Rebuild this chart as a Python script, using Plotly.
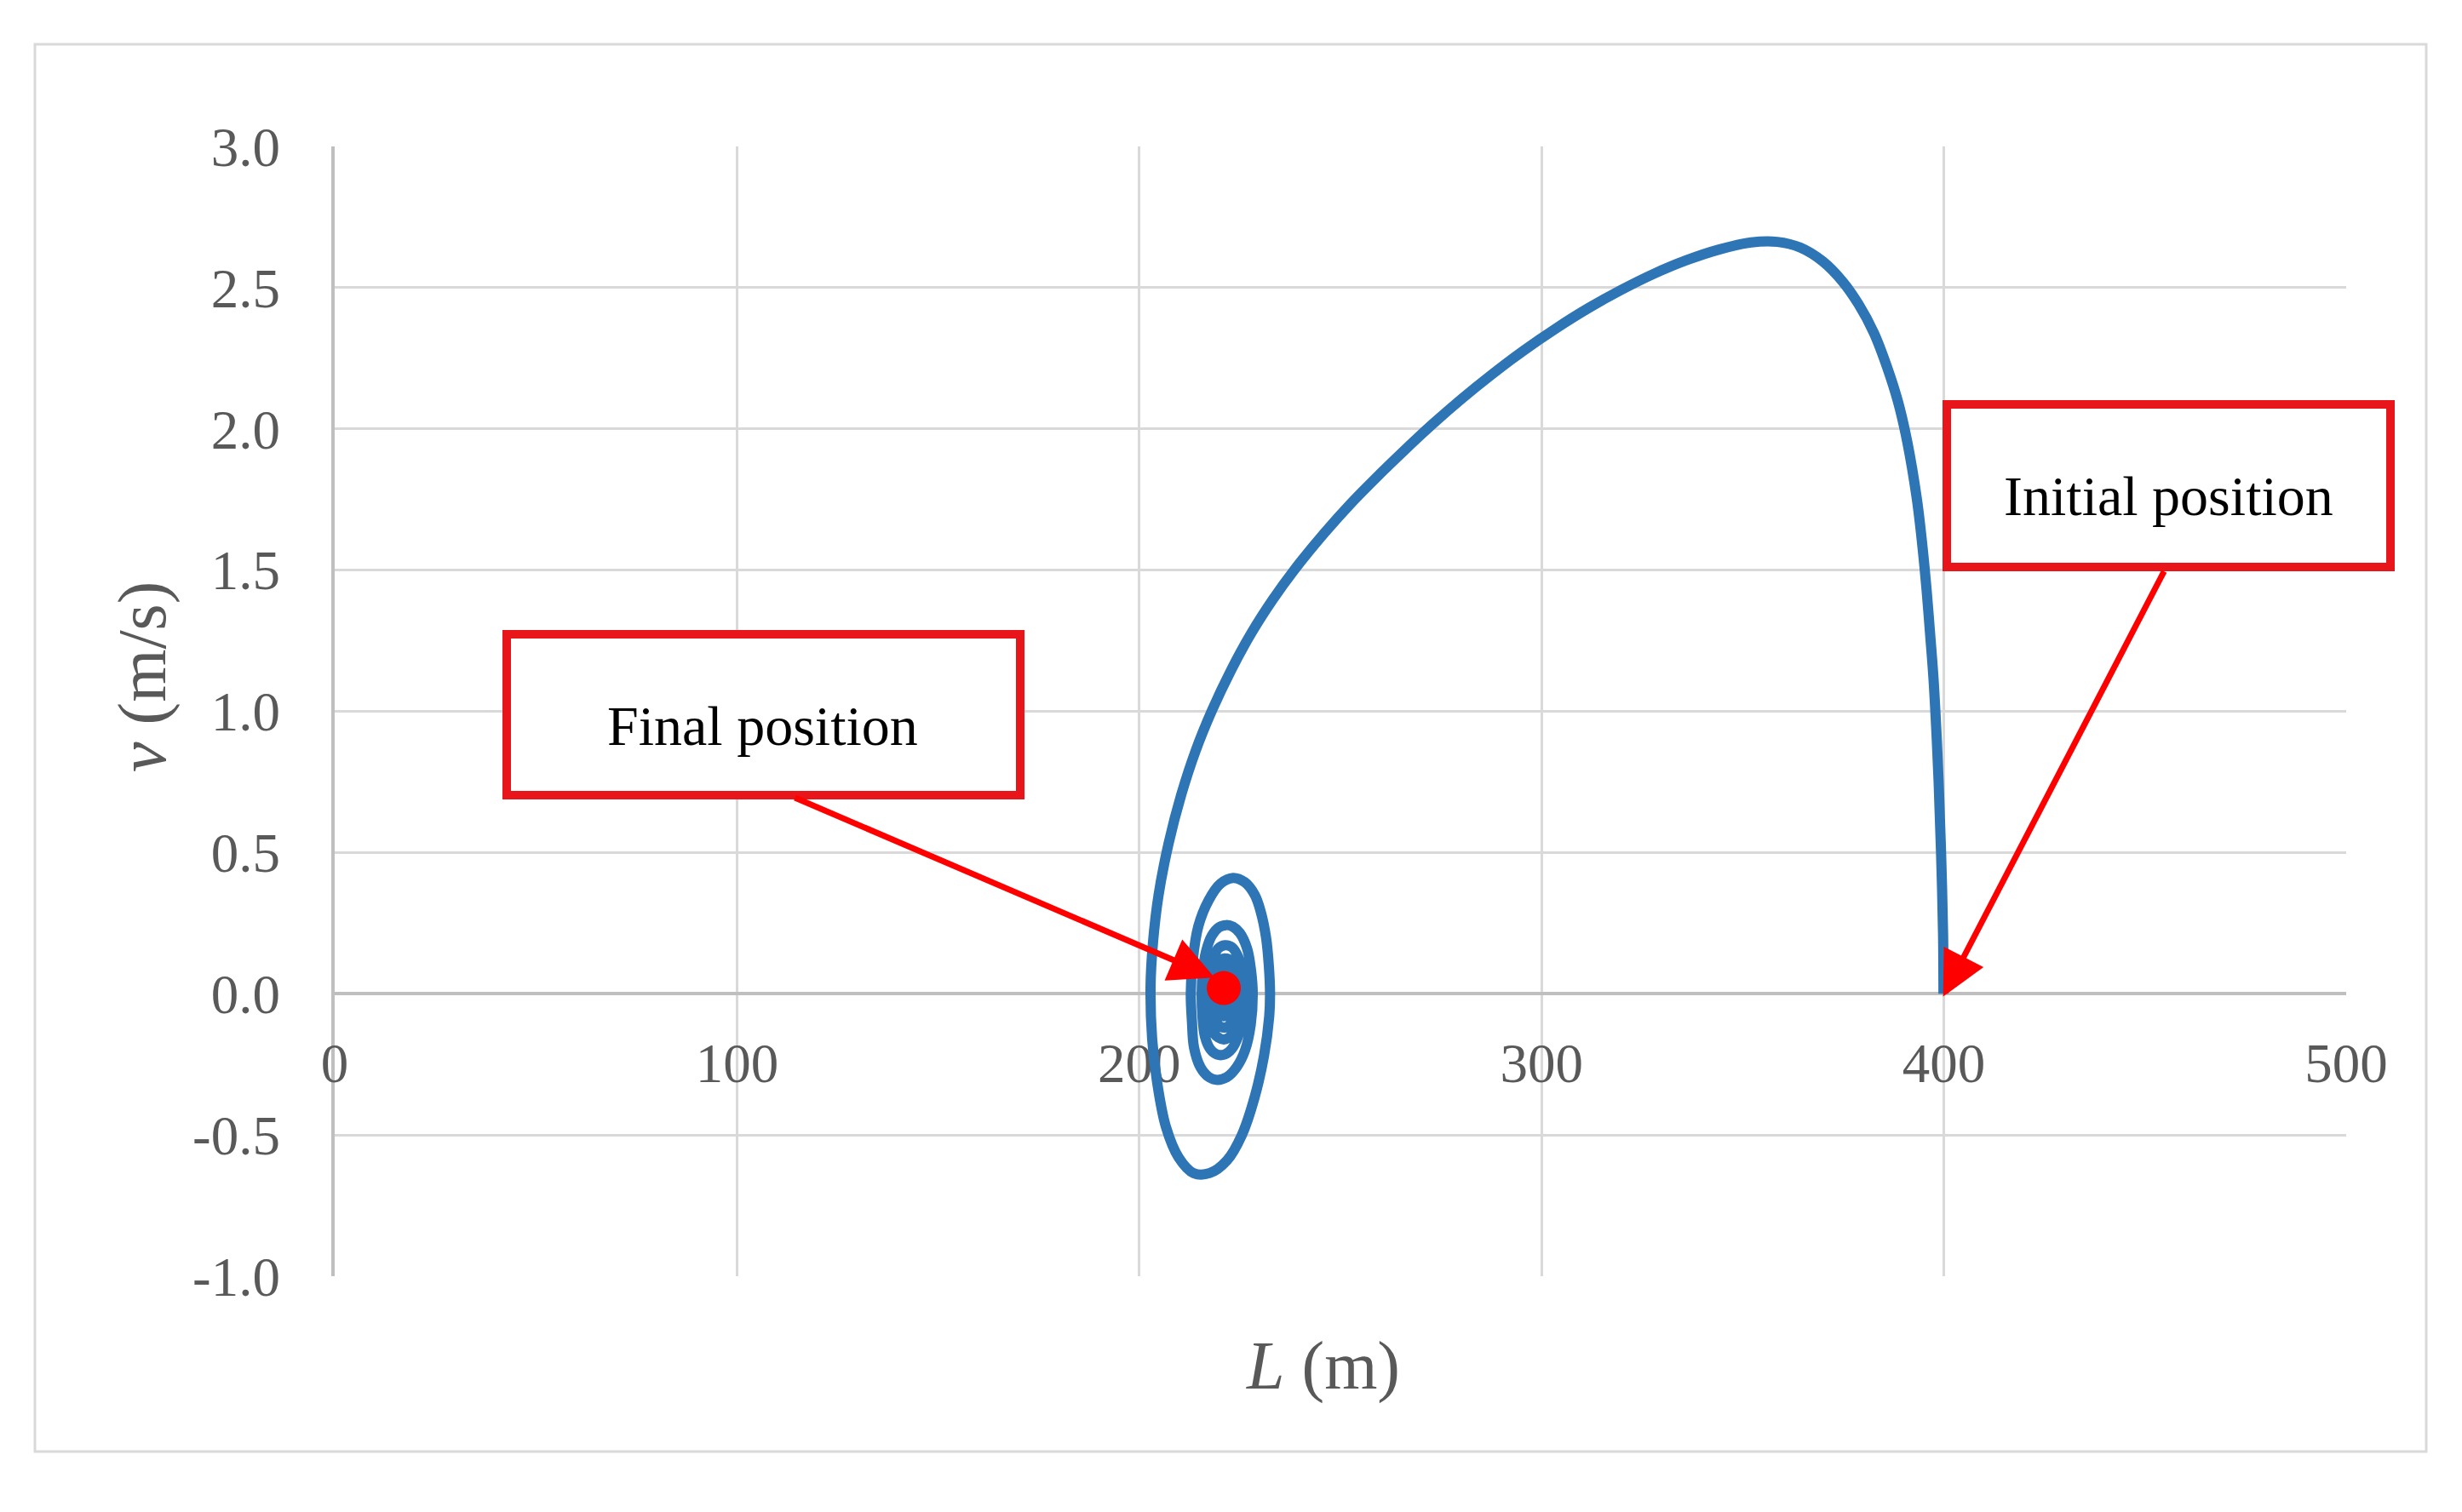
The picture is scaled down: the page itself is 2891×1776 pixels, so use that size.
import plotly.graph_objects as go

# ---------------- data ----------------
# main trajectory: from initial position (400, 0) around the big arc to the left extreme
L_main = [399.9, 399.8, 399.3, 398.7, 398.1, 397.4, 396.6, 395.7, 394.7, 393.3, 390.9, 388.6,
          385.9, 382.6, 378.8, 374.8, 369.9, 364.3, 358.6, 352.1, 344.1, 336.0, 327.9, 319.8,
          311.7, 303.6, 295.6, 287.5, 280.2, 273.0, 266.7, 259.8, 252.6, 246.0, 238.5, 233.2,
          227.9, 222.9, 218.1, 214.0, 210.4, 207.3, 204.8, 203.4, 202.8]
v_main = [0.00, 0.21, 0.50, 0.75, 0.94, 1.12, 1.27, 1.43, 1.58, 1.75, 1.954, 2.096,
          2.218, 2.34, 2.441, 2.522, 2.593, 2.642, 2.662, 2.660, 2.635, 2.597, 2.549, 2.492,
          2.428, 2.356, 2.278, 2.191, 2.107, 2.018, 1.935, 1.840, 1.736, 1.631, 1.50, 1.396,
          1.278, 1.148, 1.004, 0.86, 0.703, 0.533, 0.35, 0.18, 0.023]

# damped spiral around the final position
L_spiral = [203.2, 204.4, 206.6, 209.8, 213.5, 217.5, 221.8, 225.5, 228.6, 231.0, 232.3,
            232.5, 232.2, 231.5, 230.2, 228.7, 226.2, 223.3, 220.2, 217.2, 214.7, 213.3,
            212.8, 213.1, 213.6, 215.2, 217.3, 219.4, 221.8, 224.2, 226.3, 227.7,
            228.2, 227.8, 226.8, 225.0, 223.3, 221.6, 219.8, 218.0, 216.6, 215.8,
            215.5, 215.7, 216.3, 217.6, 219.3, 221.2, 223.0, 224.6, 225.7,
            226.0, 225.6, 224.6, 223.0, 221.3, 219.6, 218.3, 217.4,
            217.0, 217.3, 218.5, 221.0, 223.3, 224.6,
            225.0, 224.4, 223.0, 221.2, 219.5, 218.4,
            218.0, 218.4, 219.6, 221.2, 222.8, 223.8,
            224.1, 223.6, 222.5, 221.1, 219.8, 219.0,
            218.8, 219.3, 221.0, 222.8,
            223.3, 222.6, 221.0, 219.8,
            219.5, 220.2, 221.2, 222.4,
            222.6, 222.0, 221.0, 220.2,
            220.4, 221.0, 221.5, 221.0]
v_spiral = [-0.16, -0.31, -0.47, -0.58, -0.635, -0.635, -0.59, -0.50, -0.37, -0.22, -0.08,
            0.00, 0.10, 0.20, 0.29, 0.35, 0.395, 0.41, 0.39, 0.33, 0.24, 0.12,
            0.00, -0.10, -0.19, -0.26, -0.295, -0.305, -0.295, -0.26, -0.20, -0.11,
            0.00, 0.08, 0.16, 0.215, 0.237, 0.243, 0.235, 0.205, 0.15, 0.08,
            0.00, -0.08, -0.15, -0.195, -0.215, -0.215, -0.195, -0.15, -0.08,
            0.00, 0.07, 0.13, 0.165, 0.172, 0.16, 0.12, 0.06,
            0.00, -0.08, -0.14, -0.162, -0.14, -0.08,
            0.00, 0.075, 0.115, 0.125, 0.11, 0.06,
            0.00, -0.07, -0.11, -0.12, -0.105, -0.06,
            0.00, 0.06, 0.09, 0.095, 0.08, 0.04,
            0.00, -0.05, -0.08, -0.05,
            0.00, 0.05, 0.065, 0.04,
            0.00, -0.04, -0.05, -0.03,
            0.00, 0.03, 0.035, 0.02,
            -0.01, -0.02, 0.00, 0.02]

final_L = [221.0]
final_v = [0.02]

# arrow tips and tails (data coordinates)
init_tip = (399.8, -0.01)
init_tail = (454.9, 1.50)
final_tip = (218.7, 0.057)
final_tail = (114.1, 0.696)

x_tickvals = [0, 100, 200, 300, 400, 500]
x_ticktext = ["0", "100", "200", "300", "400", "500"]
y_tickvals = [-1.0, -0.5, 0.0, 0.5, 1.0, 1.5, 2.0, 2.5, 3.0]
y_ticktext = ["-1.0", "-0.5", "0.0", "0.5", "1.0", "1.5", "2.0", "2.5", "3.0"]

# ---------------- layout geometry (pixels) ----------------
W, H = 2891, 1776
PL, PR, PT, PB = 393, 2755, 172, 1499   # plot area edges


def px(x):
    return (x - PL) / (PR - PL)


def py(y):
    return (PB - y) / (PB - PT)


FONT = "Liberation Serif"
GRAY = "#595959"
BLUE = "#2E75B6"
RED = "#FF0000"
BOXRED = "#E8161B"

fig = go.Figure()
fig.add_trace(go.Scatter(
    x=L_main + L_spiral, y=v_main + v_spiral, mode="lines",
    line=dict(color=BLUE, width=12, shape="spline", smoothing=1.0, simplify=False),
    hoverinfo="skip", showlegend=False))
fig.add_trace(go.Scatter(
    x=final_L, y=final_v, mode="markers",
    marker=dict(color=RED, size=40, line=dict(width=0)),
    hoverinfo="skip", showlegend=False))

shapes = [
    # outer chart border
    dict(type="rect", xref="paper", yref="paper",
         x0=px(41), x1=px(2849), y0=py(1705), y1=py(52),
         line=dict(color="#D9D9D9", width=3), fillcolor="rgba(0,0,0,0)", layer="below"),
    # label boxes
    dict(type="rect", xref="paper", yref="paper",
         x0=px(2286), x1=px(2807), y0=py(666), y1=py(475),
         line=dict(color=BOXRED, width=10), fillcolor="white", layer="above"),
    dict(type="rect", xref="paper", yref="paper",
         x0=px(595), x1=px(1198), y0=py(934), y1=py(745),
         line=dict(color=BOXRED, width=10), fillcolor="white", layer="above"),
]

annotations = [
    dict(x=init_tip[0], y=init_tip[1], ax=init_tail[0], ay=init_tail[1],
         xref="x", yref="y", axref="x", ayref="y", text="", showarrow=True,
         arrowhead=2, arrowsize=1.5, arrowwidth=7, arrowcolor=RED,
         standoff=0, startstandoff=0),
    dict(x=final_tip[0], y=final_tip[1], ax=final_tail[0], ay=final_tail[1],
         xref="x", yref="y", axref="x", ayref="y", text="", showarrow=True,
         arrowhead=2, arrowsize=1.5, arrowwidth=7, arrowcolor=RED,
         standoff=0, startstandoff=0),
    dict(x=px(2546), y=py(582), xref="paper", yref="paper", text="Initial position",
         showarrow=False, xanchor="center", yanchor="middle",
         font=dict(family=FONT, size=66, color="black")),
    dict(x=px(895), y=py(852), xref="paper", yref="paper", text="Final position",
         showarrow=False, xanchor="center", yanchor="middle",
         font=dict(family=FONT, size=66, color="black")),
    dict(x=px(1553), y=py(1604), xref="paper", yref="paper", text="<i>L</i> (m)",
         showarrow=False, xanchor="center", yanchor="middle",
         font=dict(family=FONT, size=80, color=GRAY)),
    dict(x=px(167), y=py(795), xref="paper", yref="paper", text="<i>v</i> (m/s)",
         showarrow=False, xanchor="center", yanchor="middle", textangle=-90,
         font=dict(family=FONT, size=80, color=GRAY)),
]

fig.update_layout(
    width=W, height=H,
    margin=dict(l=PL, r=W - PR, t=PT, b=H - PB, pad=0),
    paper_bgcolor="white", plot_bgcolor="white",
    showlegend=False,
    shapes=shapes, annotations=annotations,
    xaxis=dict(range=[0, 500], tickvals=x_tickvals, ticktext=x_ticktext,
               showgrid=True, gridcolor="#D9D9D9", gridwidth=3,
               zeroline=False, anchor="free", position=0.25,
               showline=True, linecolor="#BFBFBF", linewidth=4,
               ticks="", ticklabelstandoff=24, layer="below traces",
               tickfont=dict(family=FONT, size=65, color=GRAY)),
    yaxis=dict(range=[-1, 3], tickvals=y_tickvals, ticktext=y_ticktext,
               showgrid=True, gridcolor="#D9D9D9", gridwidth=3,
               zeroline=False, showline=True, linecolor="#BFBFBF", linewidth=4,
               ticks="", ticklabelstandoff=47, layer="below traces",
               tickfont=dict(family=FONT, size=65, color=GRAY)),
)

fig.write_html("out.html", config={"displayModeBar": False},
               post_script="document.body.style.margin='0';")
